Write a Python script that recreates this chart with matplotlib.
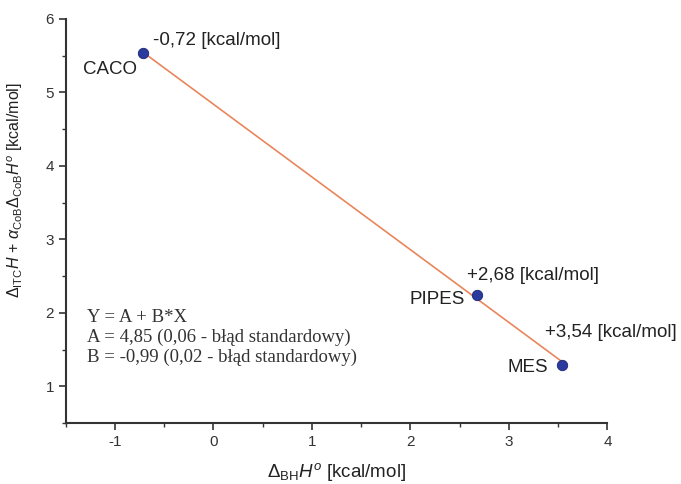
import numpy as np
import matplotlib
matplotlib.use("Agg")
import matplotlib.pyplot as plt
from matplotlib.ticker import MultipleLocator

# buffer data
buffers = ["CACO", "PIPES", "MES"]
dH_bh = [-0.72, 2.68, 3.54]
y_val = [5.54, 2.24, 1.29]
value_labels = ["-0,72 [kcal/mol]", "+2,68 [kcal/mol]", "+3,54 [kcal/mol]"]
fit_lines = ["Y = A + B*X",
             "A = 4,85 (0,06 - błąd standardowy)",
             "B = -0,99 (0,02 - błąd standardowy)"]

plt.rcParams['font.family'] = ['Liberation Sans', 'DejaVu Sans']
plt.rcParams['mathtext.fontset'] = 'custom'
plt.rcParams['mathtext.rm'] = 'Liberation Sans'
plt.rcParams['mathtext.it'] = 'Liberation Sans:italic'
plt.rcParams['axes.unicode_minus'] = False

fig = plt.figure(figsize=(6.81, 4.84), dpi=100)
ax = fig.add_axes([0.0965, 0.126, 0.7955, 0.835])

# linear fit through the three points
b, a = np.polyfit(dH_bh, y_val, 1)
xs = np.array([min(dH_bh), max(dH_bh)])
ax.plot(xs, a + b * xs, color='#e8865c', lw=1.2, zorder=2)
ax.plot(dH_bh, y_val, 'o', ms=7.5, color='#2a3a9e', mec='#1c2670', mew=0.6, zorder=3)

# annotations (offsets in pixels)
name_off = [(-6, -17), (-13, -4), (-14, -3)]
val_off = [(10, 12), (-10, 20), (-17, 32)]
for i in range(len(buffers)):
    ax.annotate(buffers[i], (dH_bh[i], y_val[i]), xytext=name_off[i],
                textcoords='offset pixels', ha='right', va='center', fontsize=13.5, color='#222222')
    ax.annotate(value_labels[i], (dH_bh[i], y_val[i]), xytext=val_off[i],
                textcoords='offset pixels', ha='left', va='center', fontsize=13.5, color='#222222')

ax.text(0.039, 0.282, "\n".join(fit_lines), transform=ax.transAxes, ha='left', va='top',
        family='Liberation Serif', fontsize=13.5, color='#333333', linespacing=1.2)

ax.set_xlim(-1.5, 4)
ax.set_ylim(0.5, 6)
ax.xaxis.set_major_locator(MultipleLocator(1))
ax.xaxis.set_minor_locator(MultipleLocator(0.5))
ax.yaxis.set_major_locator(MultipleLocator(1))
ax.yaxis.set_minor_locator(MultipleLocator(0.5))
ax.tick_params(which='major', direction='out', length=5, width=1.2, labelsize=11, colors='#333333')
ax.tick_params(which='minor', direction='out', length=3, width=1.0, colors='#333333')

for s in ['top', 'right']:
    ax.spines[s].set_visible(False)
for s in ['left', 'bottom']:
    ax.spines[s].set_linewidth(1.5)
    ax.spines[s].set_color('#333333')

ax.set_xlabel(r'$\Delta_{\mathrm{BH}}H^{o}$ [kcal/mol]', fontsize=13.5, color='#222222')
ax.xaxis.set_label_coords(0.5, -0.095)
ax.set_ylabel(r'$\Delta_{\mathrm{ITC}}H$ + $\alpha_{\mathrm{CoB}}\Delta_{\mathrm{CoB}}H^{o}$ [kcal/mol]',
              fontsize=11.5, color='#222222')
ax.yaxis.set_label_coords(-0.075, 0.577)

fig.savefig("out.png", dpi=100)
